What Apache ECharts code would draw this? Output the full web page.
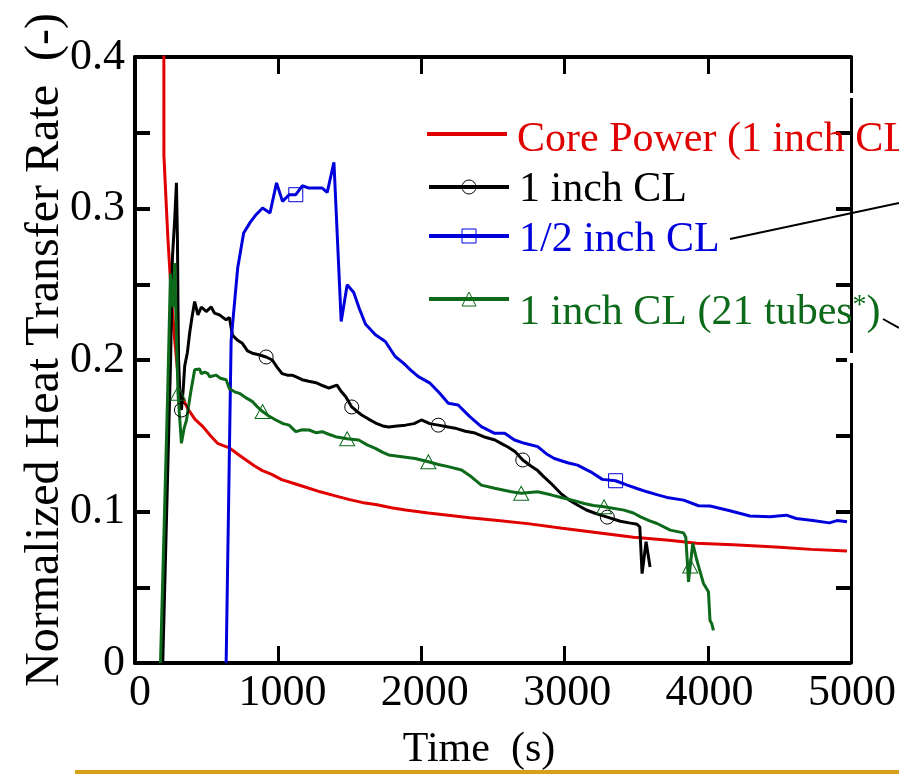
<!DOCTYPE html>
<html>
<head>
<meta charset="utf-8">
<script src="https://cdn.jsdelivr.net/npm/echarts@6/dist/echarts.min.js"></script>
<style>
html,body{margin:0;padding:0;background:#fff;}
#chart{width:899px;height:776px;}
</style>
</head>
<body>
<div id="chart"></div>
<script>
// ---------- data ----------
const xTicks = [0, 1000, 2000, 3000, 4000, 5000];
const yTicks = [0, 0.1, 0.2, 0.3, 0.4];

const seriesNames = ['Core Power (1 inch CL)', '1 inch CL', '1/2 inch CL', '1 inch CL (21 tubes*)'];

// [time (s), normalized heat transfer rate]
const corePower = [[0,1.0],[200,1.0],[203,0.335],[230,0.282],[255,0.243],[279,0.213],[300,0.192],[314,0.180],[335,0.175],[349,0.172],[370,0.168],[420,0.161],[477,0.156],[530,0.150],[580,0.145],[620,0.1435],[663,0.142],[720,0.138],[780,0.134],[840,0.130],[895,0.127],[960,0.1245],[1030,0.121],[1100,0.119],[1200,0.116],[1300,0.113],[1400,0.1105],[1500,0.108],[1593,0.106],[1700,0.1045],[1800,0.1025],[1900,0.101],[2060,0.099],[2200,0.0975],[2350,0.0958],[2548,0.094],[2757,0.092],[3000,0.089],[3250,0.086],[3500,0.083],[3750,0.081],[3944,0.079],[4200,0.078],[4500,0.0765],[4750,0.075],[5000,0.074]];

const cl1 = [[195,0],[250,0.20],[263,0.268],[279,0.293],[291,0.317],[298,0.28],[302,0.235],[306,0.20],[315,0.178],[326,0.167],[338,0.18],[349,0.196],[368,0.205],[384,0.218],[400,0.228],[419,0.2386],[442,0.2298],[466,0.235],[500,0.232],[535,0.235],[558,0.231],[593,0.2298],[640,0.2265],[663,0.228],[684,0.2165],[720,0.213],[754,0.211],[790,0.206],[824,0.2045],[870,0.2035],[921,0.202],[964,0.200],[1000,0.195],[1033,0.191],[1070,0.19],[1103,0.190],[1140,0.1885],[1173,0.187],[1220,0.186],[1271,0.185],[1320,0.183],[1362,0.1815],[1418,0.1834],[1450,0.179],[1480,0.1757],[1522,0.169],[1560,0.166],[1592,0.1637],[1640,0.161],[1690,0.1584],[1740,0.1565],[1781,0.1558],[1840,0.1565],[1899,0.157],[1960,0.158],[2011,0.1604],[2070,0.158],[2130,0.157],[2190,0.156],[2248,0.155],[2320,0.153],[2388,0.1518],[2460,0.149],[2528,0.1472],[2580,0.1445],[2619,0.1426],[2670,0.1395],[2723,0.134],[2780,0.130],[2828,0.127],[2870,0.123],[2919,0.1188],[2989,0.112],[3050,0.1075],[3107,0.1043],[3170,0.101],[3226,0.099],[3317,0.0963],[3408,0.0936],[3470,0.0925],[3526,0.0916],[3545,0.0898],[3561,0.059],[3589,0.080],[3617,0.0634]];
const cl1Markers = [326, 921, 1522, 2130, 2723, 3317];

const clHalf = [[640,0],[675,0.213],[721,0.2607],[763,0.2838],[810,0.291],[850,0.2959],[896,0.3003],[948,0.297],[994,0.3169],[1036,0.3047],[1082,0.3091],[1129,0.3091],[1175,0.315],[1222,0.3135],[1315,0.3135],[1350,0.3106],[1397,0.3305],[1448,0.2254],[1490,0.2496],[1536,0.2446],[1575,0.234],[1618,0.2238],[1688,0.2166],[1758,0.2122],[1827,0.2023],[1885,0.1979],[1940,0.193],[1990,0.189],[2072,0.1847],[2140,0.178],[2200,0.1714],[2269,0.1703],[2351,0.1626],[2432,0.156],[2526,0.1516],[2596,0.1516],[2665,0.1472],[2735,0.145],[2828,0.1428],[2890,0.138],[2945,0.135],[3038,0.1322],[3107,0.1306],[3200,0.1262],[3282,0.1212],[3375,0.1203],[3457,0.1174],[3530,0.115],[3596,0.113],[3670,0.111],[3736,0.1093],[3853,0.1075],[3957,0.1038],[4038,0.1036],[4178,0.1005],[4318,0.097],[4457,0.0965],[4574,0.0976],[4644,0.0954],[4760,0.094],[4876,0.0925],[4930,0.094],[5000,0.0932]];
const clHalfMarkers = [1129, 3375];

const cl21 = [[179,0],[230,0.18],[249,0.257],[260,0.24],[267,0.235],[279,0.264],[290,0.22],[302,0.178],[326,0.145],[345,0.155],[361,0.160],[390,0.178],[419,0.1935],[454,0.194],[466,0.191],[490,0.192],[512,0.191],[524,0.189],[570,0.19],[600,0.188],[640,0.187],[663,0.181],[700,0.179],[733,0.178],[780,0.175],[826,0.1725],[860,0.169],[896,0.166],[940,0.163],[989,0.1604],[1040,0.158],[1082,0.157],[1129,0.1527],[1175,0.154],[1222,0.1538],[1270,0.152],[1315,0.1527],[1360,0.151],[1408,0.1494],[1490,0.148],[1571,0.1472],[1630,0.144],[1688,0.1417],[1740,0.139],[1781,0.1373],[1874,0.1362],[1967,0.135],[2060,0.1328],[2130,0.131],[2200,0.1296],[2293,0.1274],[2362,0.1229],[2432,0.1174],[2526,0.1153],[2642,0.113],[2712,0.112],[2828,0.113],[2920,0.111],[3015,0.1087],[3090,0.107],[3154,0.1053],[3220,0.104],[3294,0.1031],[3434,0.1009],[3500,0.099],[3550,0.0965],[3610,0.094],[3666,0.0921],[3759,0.0877],[3852,0.0859],[3868,0.083],[3887,0.0535],[3899,0.064],[3917,0.0789],[3945,0.068],[3992,0.0525],[4027,0.047],[4038,0.028],[4050,0.026],[4062,0.0216]];
const cl21Markers = [302, 896, 1490, 2060, 2712, 3294, 3899];

// ---------- styling ----------
const FONT = "'Liberation Serif','Times New Roman',serif";
const RED = '#e00000', BLACK = '#000000', BLUE = '#0000dd', GREEN = '#0d6a1a';
const X_MIN = xTicks[0], X_MAX = xTicks[xTicks.length - 1];
const Y_MIN = yTicks[0], Y_MAX = yTicks[yTicks.length - 1];

function withMarkers(pts, marks, sym) {
  return pts.map(p => ({ value: p, symbol: marks.indexOf(p[0]) >= 0 ? sym : 'none' }));
}

const chart = echarts.init(document.getElementById('chart'), null, { renderer: 'canvas' });

const legendBase = {
  orient: 'vertical', left: 427, padding: 0, itemWidth: 80, itemHeight: 17.5,
  selectedMode: false,
  itemStyle: { borderWidth: 1 },
  lineStyle: { width: 4 }
};

function legendText(color, padTop) {
  return {
    fontFamily: FONT, fontSize: 42, lineHeight: 42, color,
    rich: { t: { fontFamily: FONT, fontSize: 42, lineHeight: 42, color, padding: [padTop, 0, 0, 5] } }
  };
}

function lineSeries(name, data, color, sym, size) {
  return {
    name, type: 'line', data, xAxisIndex: 0, yAxisIndex: 0,
    symbol: sym, symbolSize: size, showSymbol: true,
    lineStyle: { color, width: 3 },
    itemStyle: { color: 'rgba(0,0,0,0)', borderColor: color, borderWidth: 1 },
    emphasis: { disabled: true },
    clip: true, z: 3
  };
}

// Inward tick marks: thin strip grids along each frame edge whose split lines
// (drawn by the axis at the same tick values) form the short inward ticks.
const PLOT = { left: 135, right: 48, top: 57, bottom: 113 };
const TICK_X_LEN = 17, TICK_Y_LEN = 15;

function dummyAxis(gridIndex) {
  return { gridIndex, type: 'value', min: 1, max: 2, show: false };
}
function stripX(gridIndex, position, showLine) {
  return {
    gridIndex, type: 'value', min: X_MIN, max: X_MAX, interval: 1000, position,
    axisLine: { show: showLine, lineStyle: { color: '#000', width: 4 } },
    axisTick: { show: false }, axisLabel: { show: false },
    splitLine: { show: true, lineStyle: { color: '#000', width: 3 } }
  };
}
function stripY(gridIndex, position, showLine) {
  return {
    gridIndex, type: 'value', min: Y_MIN, max: Y_MAX, interval: 0.05, position,
    axisLine: { show: showLine, lineStyle: { color: '#000', width: 3 } },
    axisTick: { show: false }, axisLabel: { show: false },
    splitLine: { show: true, lineStyle: { color: '#000', width: 4 } }
  };
}

const option = {
  animation: false,
  backgroundColor: '#fff',
  textStyle: { fontFamily: FONT },
  grid: [
    Object.assign({}, PLOT),                                                                   // 0 main plot
    { left: PLOT.left, width: TICK_Y_LEN, top: PLOT.top, bottom: PLOT.bottom },                // 1 left strip
    { right: PLOT.right, width: TICK_Y_LEN, top: PLOT.top, bottom: PLOT.bottom },              // 2 right strip
    { left: PLOT.left, right: PLOT.right, bottom: PLOT.bottom, height: TICK_X_LEN },           // 3 bottom strip
    { left: PLOT.left, right: PLOT.right, top: PLOT.top, height: TICK_X_LEN }                  // 4 top strip
  ],
  xAxis: [{
    gridIndex: 0,
    type: 'value', min: X_MIN, max: X_MAX, interval: 1000,
    position: 'bottom',
    axisLine: { show: true, lineStyle: { color: '#000', width: 4 } },
    axisTick: { show: false },
    axisLabel: { fontFamily: FONT, fontSize: 44, color: '#000', margin: 8, padding: [0, 0, 0, 10], formatter: v => String(v) },
    splitLine: { show: false },
    name: 'Time  (s)', nameLocation: 'middle', nameGap: 66, nameMoveOverlap: false,
    nameTextStyle: { fontFamily: FONT, fontSize: 42, color: '#000', padding: [0, 24, 0, 0] }
  },
    dummyAxis(1),
    dummyAxis(2),
    stripX(3, 'bottom', false),
    stripX(4, 'top', true)
  ],
  yAxis: [{
    gridIndex: 0,
    type: 'value', min: Y_MIN, max: Y_MAX, interval: 0.1,
    position: 'left',
    axisLine: { show: true, lineStyle: { color: '#000', width: 4 } },
    axisTick: { show: false },
    axisLabel: { fontFamily: FONT, fontSize: 44, color: '#000', margin: 10,
      formatter: v => (v === 0 ? '0' : v.toFixed(1)) },
    splitLine: { show: false },
    name: 'Normalized Heat Transfer Rate  (-)', nameLocation: 'middle', nameRotate: 90, nameGap: 66,
    nameMoveOverlap: false,
    nameTextStyle: { fontFamily: FONT, fontSize: 48, color: '#000', padding: [0, 0, 0, 20] }
  },
    stripY(1, 'left', false),
    stripY(2, 'right', true),
    dummyAxis(3),
    dummyAxis(4)
  ],
  legend: [
    Object.assign({}, legendBase, {
      top: 107, itemHeight: 4,
      data: [{ name: seriesNames[0], icon: 'rect' }],
      itemStyle: { color: RED, borderWidth: 0 },
      formatter: n => '{t|' + n + '}',
      textStyle: legendText(RED, 12)
    }),
    Object.assign({}, legendBase, {
      top: 163,
      data: [seriesNames[1]],
      formatter: n => '{t|' + n + '}',
      textStyle: legendText(BLACK, 6)
    }),
    Object.assign({}, legendBase, {
      top: 211,
      data: [seriesNames[2]],
      formatter: n => '{t|' + n + '}',
      textStyle: legendText(BLUE, 8)
    }),
    Object.assign({}, legendBase, {
      top: 264,
      data: [seriesNames[3]],
      formatter: () => '1 inch CL (21 tubes{s|*})',
      textStyle: { fontFamily: FONT, fontSize: 42, lineHeight: 42, color: GREEN, padding: [28, 0, 0, 5],
        rich: { s: { fontFamily: FONT, fontSize: 28, lineHeight: 28, color: GREEN, verticalAlign: 'top' } } }
    })
  ],
  series: [
    Object.assign(lineSeries(seriesNames[0], corePower.map(p => ({ value: p })), RED, 'none', 0), { showSymbol: false }),
    lineSeries(seriesNames[1], withMarkers(cl1, cl1Markers, 'circle'), BLACK, 'circle', 14),
    lineSeries(seriesNames[2], withMarkers(clHalf, clHalfMarkers, 'rect'), BLUE, 'rect', 14),
    lineSeries(seriesNames[3], withMarkers(cl21, cl21Markers, 'triangle'), GREEN, 'triangle', [15, 14])
  ],
  graphic: [
    { type: 'line', z: 100, shape: { x1: 730, y1: 239, x2: 899, y2: 203 }, style: { stroke: '#000', lineWidth: 2 } },
    { type: 'line', z: 100, shape: { x1: 883, y1: 319, x2: 899, y2: 328 }, style: { stroke: '#000', lineWidth: 2 } },
    { type: 'rect', z: 100, shape: { x: 847, y: 93, width: 8, height: 5 }, style: { fill: '#fff' } },
    { type: 'rect', z: 100, shape: { x: 847, y: 353, width: 8, height: 10 }, style: { fill: '#fff' } },
    { type: 'line', z: 0, shape: { x1: 75, y1: 772, x2: 899, y2: 772 }, style: { stroke: '#d4a017', lineWidth: 4 } }
  ]
};

chart.setOption(option);
</script>
</body>
</html>
